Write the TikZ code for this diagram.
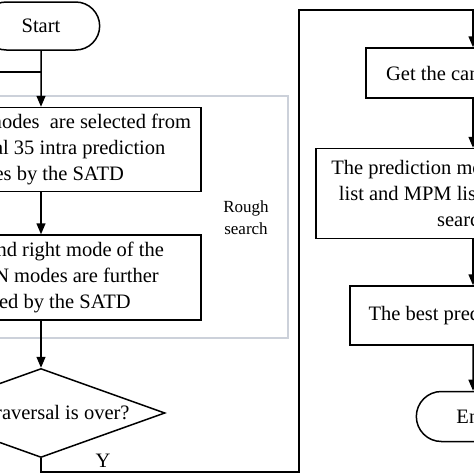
\documentclass[tikz,border=0pt]{standalone}
\usepackage{fontspec}
\setmainfont{Liberation Serif}
\usetikzlibrary{positioning,shapes.misc,shapes.geometric,arrows.meta}
\definecolor{roughgray}{RGB}{204,209,218}

\begin{document}
\begin{tikzpicture}[x=1pt,y=-1pt,
		every node/.style={font=\fontsize{20.5}{26}\selectfont},
		stepbox/.style={draw,line width=1.5pt,align=center,inner sep=0pt},
		term/.style={draw,line width=1.5pt,rounded rectangle,minimum height=48pt},
		decision/.style={draw,line width=1.5pt,diamond,aspect=2.79,inner sep=0pt,minimum width=248pt,minimum height=89pt},
		flow/.style={line width=1.5pt},
		arr/.style={flow,-{Triangle[length=11pt,width=9pt]}}]
	\useasboundingbox (0,0) rectangle (474,474);
	\clip (0,0) rectangle (474,474);
	
	\node[draw=roughgray,line width=1.5pt,minimum width=494pt,minimum height=242pt] (rough) at (41,217) {};
	\node[font=\fontsize{17}{22}\selectfont,align=center] (roughlbl) at (246,218) {Rough\\search};
	
	\node[term,minimum width=124pt] (start) at (41,26) {Start};
	\node[stepbox,minimum width=320pt,minimum height=84pt,below=56pt of start] (sel) {The best N modes\ \ are selected from\\all the total 35 intra prediction\\modes by the SATD};
	\node[stepbox,minimum width=320pt,minimum height=85pt,below=42pt of sel] (chk) {The left and right mode of the\\selected N modes are further\\checked by the SATD};
	\node[decision,below=47pt of chk] (dec) {The traversal is over?};
	\coordinate (join) at (41,72);
	
	\node[stepbox,minimum width=214pt,minimum height=50pt] (get) at (473,73) {Get the candidate list};
	\node[stepbox,minimum width=314pt,minimum height=90pt,below=49pt of get] (fine) {The prediction modes in candidate\\list and MPM list are thoroughly\\searched};
	\node[stepbox,minimum width=246pt,minimum height=59pt,below=46pt of fine] (best) {The best prediction mode};
	\node[term,minimum width=120pt,minimum height=50pt,below=45pt of best] (fin) {End};
	\coordinate (yb) at (299,472);
	\coordinate (yt) at (299,10);
	
	\draw[arr] (start) -- (sel);
	\draw[arr] (sel) -- (chk);
	\draw[arr] (chk) -- (dec);
	\draw[flow] (dec.west) -- ++(-27,0) |- (join);
	\draw[arr] (dec.south) |- node[above,pos=0.62] (ylbl) {Y} (yb) -- (yt) -| (get);
	\draw[arr] (get) -- (fine);
	\draw[arr] (fine) -- (best);
	\draw[arr] (best) -- (fin);
\end{tikzpicture}
\end{document}
